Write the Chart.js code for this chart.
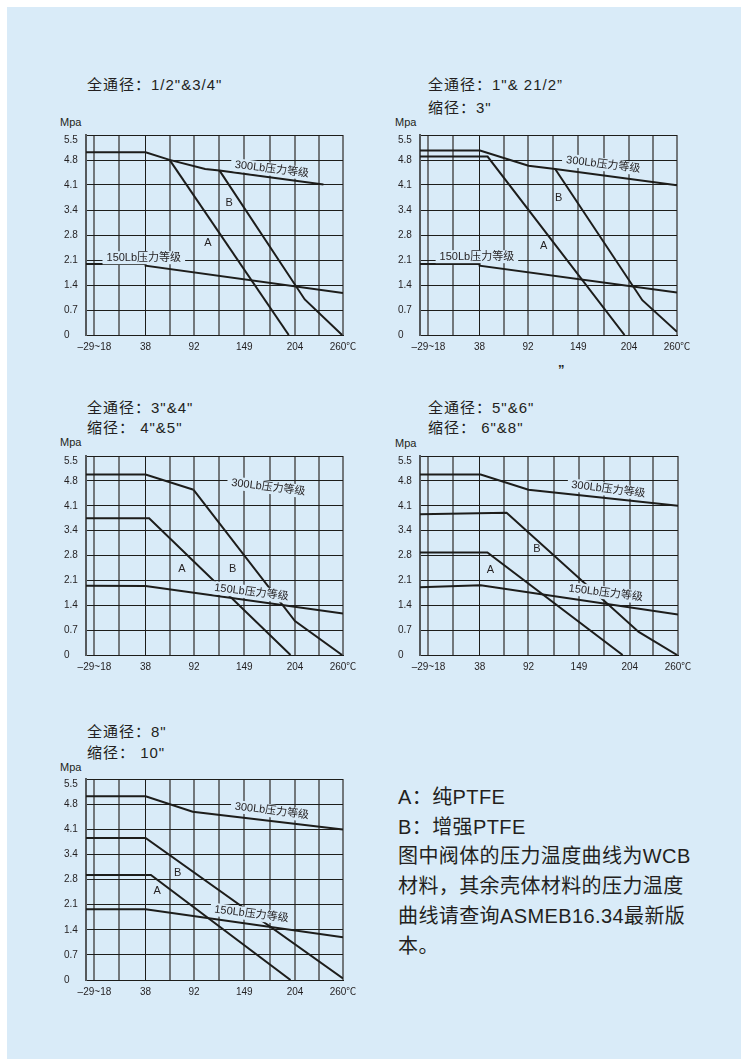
<!DOCTYPE html>
<html>
<head>
<meta charset="utf-8">
<script src="https://cdn.jsdelivr.net/npm/chart.js@4.4.1/dist/chart.umd.min.js"></script>
<style>
  html, body { margin: 0; padding: 0; background: #fff; }
  body { width: 746px; height: 1059px; position: relative; overflow: hidden;
         font-family: "Liberation Sans", "Noto Sans CJK SC", sans-serif; color: #231f20; }
  #page { position: absolute; left: 7px; top: 7px; width: 734px; height: 1052px; background: #d9ebf8; }
  .title { position: absolute; font-size: 15px; line-height: 20px; letter-spacing: 1px; white-space: nowrap; }
  .unit { position: absolute; font-size: 11px; line-height: 14px; }
  canvas { position: absolute; }
  .note { position: absolute; left: 398px; top: 783px; font-size: 20px; line-height: 29.7px;
          letter-spacing: 0.4px; white-space: nowrap; }
  .mark { position: absolute; left: 558px; top: 362px; font-size: 13px; font-weight: bold; }
</style>
</head>
<body>
<div id="page"></div>

<div class="title" style="left:87px;top:75px">全通径：1/2"&amp;3/4"</div>
<div class="title" style="left:428px;top:75px">全通径：1"&amp; 21/2”</div>
<div class="title" style="left:428px;top:98px">缩径：3"</div>
<div class="title" style="left:87px;top:398px">全通径：3"&amp;4"</div>
<div class="title" style="left:87px;top:418px">缩径： 4"&amp;5"</div>
<div class="title" style="left:428px;top:398px">全通径：5"&amp;6"</div>
<div class="title" style="left:428px;top:418px">缩径： 6"&amp;8"</div>
<div class="title" style="left:87px;top:722px">全通径：8"</div>
<div class="title" style="left:87px;top:743px">缩径： 10"</div>

<div class="unit" style="left:60px;top:115px">Mpa</div>
<div class="unit" style="left:395px;top:115px">Mpa</div>
<div class="unit" style="left:60px;top:435px">Mpa</div>
<div class="unit" style="left:395px;top:436px">Mpa</div>
<div class="unit" style="left:60px;top:760px">Mpa</div>

<div class="mark">”</div>

<canvas id="c1"></canvas>
<canvas id="c2"></canvas>
<canvas id="c3"></canvas>
<canvas id="c4"></canvas>
<canvas id="c5"></canvas>

<div class="note">A：纯PTFE<br>B：增强PTFE<br>图中阀体的压力温度曲线为WCB<br>材料，其余壳体材料的压力温度<br>曲线请查询ASMEB16.34最新版<br>本。</div>

<script>
// temperature grid (deg C) and its labels
const gridTemps = [-29, -19.5, 8, 38, 65, 92.5, 121, 149, 177.5, 206, 232.5, 260];
const tempLabels = ['', '–29~18', '', '38', '', '92', '', '149', '', '204', '', '260℃'];
// pressure grid, one step = 100 psi
const pressureLabels = ['0', '0.7', '1.4', '2.1', '2.8', '3.4', '4.1', '4.8', '5.5'];
const pressureStep = 0.6895;

// [temperature, pressure MPa]
// chart 1: 全通径 1/2"&3/4"
const c1Class300 = [[-29, 5.04], [38, 5.04], [65, 4.83], [105, 4.58], [121, 4.54], [238, 4.15]];
const c1Class150 = [[-29, 1.96], [38, 1.96], [38, 1.91], [260, 1.16]];
const c1A = [[65, 4.83], [199, 0]];
const c1B = [[121, 4.54], [217, 0.98], [259, 0]];

// chart 2: 全通径 1"&21/2", 缩径 3"
const c2Class300 = [[-29, 5.09], [38.5, 5.09], [93, 4.67], [123, 4.58], [260, 4.13]];
const c2Class150 = [[-29, 1.96], [38, 1.96], [38, 1.91], [260, 1.17]];
const c2A = [[-29, 4.92], [47, 4.92], [201, 0]];
const c2B = [[123, 4.58], [221, 0.96], [260, 0.09]];

// chart 3: 全通径 3"&4", 缩径 4"&5"
const c3Class300 = [[-29, 5.0], [38, 5.0], [92, 4.58]];
const c3Class150 = [[-29, 1.92], [38, 1.91], [260, 1.15]];
const c3A = [[-29, 3.79], [42, 3.79], [201, 0]];
const c3B = [[92, 4.58], [206, 0.94], [259, 0]];

// chart 4: 全通径 5"&6", 缩径 6"&8"
const c4Class300 = [[-29, 5.0], [39, 5.0], [92.5, 4.58], [260, 4.14]];
const c4Class150 = [[-29, 1.88], [39, 1.93], [260, 1.12]];
const c4A = [[-29, 2.84], [46.5, 2.84], [198, 0]];
const c4B = [[-29, 3.9], [68, 3.94], [216, 0.64], [259, 0]];

// chart 5: 全通径 8", 缩径 10"
const c5Class300 = [[-29, 5.04], [38, 5.04], [91, 4.62], [260, 4.13]];
const c5Class150 = [[-29, 1.94], [38, 1.94], [260, 1.17]];
const c5A = [[-29, 2.88], [44, 2.88], [201, 0]];
const c5B = [[-29, 3.9], [38, 3.9], [260, 0.04]];

const BG = '#d9ebf8';
const INK = '#1d1d1b';
const FONT = "'Liberation Sans', 'Noto Sans CJK SC', sans-serif";

// text labels drawn inside the plot (class names, A / B)
const notesPlugin = {
    id: 'notes',
    afterDatasetsDraw(chart, args, opts) {
        const ctx = chart.ctx;
        const x = chart.scales.x, y = chart.scales.y;
        (opts.items || []).forEach(function(n) {
            ctx.save();
            ctx.translate(x.getPixelForValue(n.t), y.getPixelForValue(n.p));
            ctx.rotate((n.rot || 0) * Math.PI / 180);
            ctx.font = '11px ' + FONT;
            const w = ctx.measureText(n.text).width;
            if (n.bg) {
                ctx.fillStyle = BG;
                ctx.fillRect(-w / 2 - 4, -6.5, w + 8, 13);
            }
            ctx.fillStyle = '#231f20';
            ctx.textAlign = 'center';
            ctx.textBaseline = 'middle';
            ctx.fillText(n.text, 0, 0);
            ctx.restore();
        });
    }
};

function pts(arr) {
    return arr.map(function(p) { return { x: p[0], y: p[1] }; });
}

function makeChart(id, plot, series, notes) {
    const cv = document.getElementById(id);
    const w = plot.r - plot.l + 47, h = plot.b - plot.t + 32;
    cv.width = w; cv.height = h;
    cv.style.left = (plot.l - 22) + 'px';
    cv.style.top = (plot.t - 8) + 'px';
    cv.style.width = w + 'px';
    cv.style.height = h + 'px';

    return new Chart(cv.getContext('2d'), {
        type: 'line',
        data: {
            datasets: series.map(function(s) {
                return { data: pts(s), borderColor: INK, borderWidth: 2, pointRadius: 0, tension: 0, fill: false };
            })
        },
        options: {
            responsive: false,
            animation: false,
            layout: { padding: { left: 0, top: 8, right: 25, bottom: 0 } },
            plugins: {
                legend: { display: false },
                tooltip: { enabled: false },
                notes: { items: notes }
            },
            scales: {
                x: {
                    type: 'linear',
                    min: -29,
                    max: 260,
                    afterBuildTicks: function(s) { s.ticks = gridTemps.map(function(v) { return { value: v }; }); },
                    afterFit: function(s) { s.height = 24; },
                    grid: {
                        drawTicks: false,
                        color: function(c) { return c.tick && c.tick.value === 38 ? INK : '#72777b'; },
                        lineWidth: function(c) { return c.tick && c.tick.value === 38 ? 1 : 2; }
                    },
                    border: { display: true, color: INK, width: 1 },
                    ticks: {
                        padding: 6,
                        autoSkip: false,
                        maxRotation: 0,
                        color: '#231f20',
                        font: { size: 10, family: FONT },
                        callback: function(v, i) { return tempLabels[i]; }
                    }
                },
                y: {
                    type: 'linear',
                    min: 0,
                    max: (pressureLabels.length - 1) * pressureStep,
                    afterBuildTicks: function(s) { s.ticks = pressureLabels.map(function(l, i) { return { value: i * pressureStep }; }); },
                    afterFit: function(s) { s.width = 22; },
                    grid: { drawTicks: false, color: INK, lineWidth: 1 },
                    border: { display: true, color: '#55595c', width: 2 },
                    ticks: {
                        padding: 0,
                        crossAlign: 'far',
                        color: '#231f20',
                        font: { size: 10, family: FONT, lineHeight: 1 },
                        // the top label sits a little below its grid line
                        callback: function(v, i) {
                            return i === pressureLabels.length - 1 ? ['', pressureLabels[i]] : pressureLabels[i];
                        }
                    }
                }
            }
        },
        plugins: [notesPlugin]
    });
}

makeChart('c1', { l: 86, t: 133, r: 343, b: 335 },
    [c1Class300, c1Class150, c1A, c1B],
    [
        { text: '300Lb压力等级', t: 180, p: 4.57, rot: 7, bg: true },
        { text: '150Lb压力等级', t: 36, p: 2.13, rot: 0, bg: true },
        { text: 'A', t: 108, p: 2.54 },
        { text: 'B', t: 132, p: 3.64 }
    ]);

makeChart('c2', { l: 420, t: 133, r: 677, b: 335 },
    [c2Class300, c2Class150, c2A, c2B],
    [
        { text: '300Lb压力等级', t: 177, p: 4.70, rot: 7, bg: true },
        { text: '150Lb压力等级', t: 35, p: 2.16, rot: 0, bg: true },
        { text: 'A', t: 110, p: 2.46 },
        { text: 'B', t: 127, p: 3.77 }
    ]);

makeChart('c3', { l: 86, t: 454, r: 343, b: 655 },
    [c3Class300, c3Class150, c3A, c3B],
    [
        { text: '300Lb压力等级', t: 176, p: 4.65, rot: 7, bg: true },
        { text: '150Lb压力等级', t: 157, p: 1.74, rot: 7, bg: true },
        { text: 'A', t: 79, p: 2.38 },
        { text: 'B', t: 136, p: 2.38 }
    ]);

makeChart('c4', { l: 420, t: 454, r: 678, b: 655 },
    [c4Class300, c4Class150, c4A, c4B],
    [
        { text: '300Lb压力等级', t: 182, p: 4.59, rot: 7, bg: true },
        { text: '150Lb压力等级', t: 179, p: 1.72, rot: 7, bg: true },
        { text: 'A', t: 50, p: 2.36 },
        { text: 'B', t: 102, p: 2.93 }
    ]);

makeChart('c5', { l: 86, t: 777, r: 343, b: 980 },
    [c5Class300, c5Class150, c5A, c5B],
    [
        { text: '300Lb压力等级', t: 180, p: 4.64, rot: 7, bg: true },
        { text: '150Lb压力等级', t: 157, p: 1.81, rot: 7, bg: true },
        { text: 'A', t: 51, p: 2.45 },
        { text: 'B', t: 74, p: 2.94 }
    ]);
</script>
</body>
</html>
